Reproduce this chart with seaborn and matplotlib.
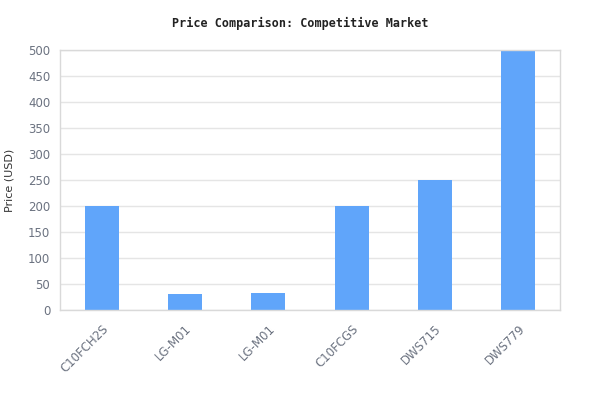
import seaborn as sns
from matplotlib import pyplot as plt
import pandas as pd

models = ['C10FCH2S', 'LG-M01', 'LG-M01', 'C10FCGS', 'DWS715', 'DWS779']
prices = [199, 31, 33, 200, 249, 499]

df = pd.DataFrame({'slot': [str(i) for i in range(len(models))], 'Price': prices})

sns.set_theme(style='white')
plt.rcParams['font.family'] = ['DejaVu Sans']

fig = plt.figure(figsize=(6, 4.2), dpi=100)
ax = fig.add_axes([0.1, 0.262, 0.8333, 0.619])

sns.barplot(data=df, x='slot', y='Price', color='#60a5fa', saturation=1,
            width=0.41, linewidth=0, ax=ax)

ax.set_ylim(0, 500)
ax.set_yticks(range(0, 501, 50))
ax.set_xticks(range(len(models)))
ax.set_xticklabels(models, rotation=45, ha='right', rotation_mode='anchor')
ax.tick_params(axis='y', length=0, labelsize=8.5, colors='#6b7280', pad=7)
ax.tick_params(axis='x', length=0, labelsize=8.5, colors='#6b7280', pad=9)
ax.grid(axis='y', color='#e5e5e5', linewidth=1)
ax.set_axisbelow(True)
for s in ax.spines.values():
    s.set_color('#d9d9d9')
    s.set_linewidth(1)
ax.set_xlabel(None)
ax.set_ylabel('Price (USD)', fontsize=8, color='#333333', labelpad=10)

fig.suptitle('Price Comparison: Competitive Market', y=0.96, fontsize=8.5,
             fontweight='bold', family='DejaVu Sans Mono', color='#222222')

plt.savefig('out.png', dpi=100)
